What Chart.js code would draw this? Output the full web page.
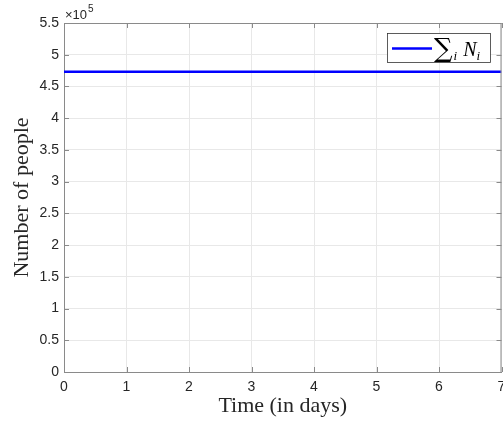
<!DOCTYPE html>
<html><head><meta charset="utf-8">
<script src="https://cdn.jsdelivr.net/npm/chart.js@4/dist/chart.umd.min.js"></script>
<style>html,body{margin:0;padding:0;background:#fff}#wrap{width:503px;height:421px}</style>
</head><body><div id="wrap"><canvas id="c" width="503" height="421"></canvas></div>
<script>
const days = [0, 1, 2, 3, 4, 5, 6, 7];
const totalPeople = [473000, 473000, 473000, 473000, 473000, 473000, 473000, 473000];
const xTicks = [0, 1, 2, 3, 4, 5, 6, 7];
const yTicks = [0, 0.5, 1, 1.5, 2, 2.5, 3, 3.5, 4, 4.5, 5, 5.5];
const yScaleFactor = 1e5;
const legendLabel = ["\u2211", "i", "N", "i"];

const AX = '#8a8a8a', TXT = '#262626', GRID = '#e8e8e8';
const SERIF = '"Liberation Serif", "Times New Roman", serif';

const extras = {
  id: 'extras',
  afterDraw(chart) {
    const ctx = chart.ctx, a = chart.chartArea, xs = chart.scales.x, ys = chart.scales.y;
    ctx.save();
    // box + inward ticks
    ctx.strokeStyle = AX; ctx.lineWidth = 1;
    ctx.beginPath();
    ctx.moveTo(a.left, a.top + 0.5); ctx.lineTo(a.right, a.top + 0.5);
    ctx.moveTo(a.right - 0.5, a.top); ctx.lineTo(a.right - 0.5, a.bottom);
    xTicks.forEach(v => { const p = Math.round(xs.getPixelForValue(v)) + 0.5;
      ctx.moveTo(p, a.bottom); ctx.lineTo(p, a.bottom - 5);
      ctx.moveTo(p, a.top); ctx.lineTo(p, a.top + 5); });
    yTicks.forEach(v => { const p = Math.round(ys.getPixelForValue(v * yScaleFactor)) + 0.5;
      ctx.moveTo(a.left, p); ctx.lineTo(a.left + 5, p);
      ctx.moveTo(a.right, p); ctx.lineTo(a.right - 5, p); });
    ctx.stroke();
    // exponent
    ctx.fillStyle = TXT; ctx.textBaseline = 'alphabetic'; ctx.textAlign = 'left';
    ctx.font = '13px "Liberation Sans", Arial, sans-serif';
    ctx.fillText('\u00d710', a.left + 1, a.top - 4);
    const w = ctx.measureText('\u00d710').width;
    ctx.font = '10px "Liberation Sans", Arial, sans-serif';
    ctx.fillText('5', a.left + 1 + w + 1, a.top - 11);
    // legend
    const lx = a.right - 114.5, ly = a.top + 10, lw = 103, lh = 29;
    ctx.fillStyle = '#fff'; ctx.fillRect(lx, ly, lw, lh);
    ctx.strokeStyle = '#333'; ctx.lineWidth = 0.8;
    ctx.strokeRect(lx + 0.5, ly + 0.5, lw, lh);
    ctx.strokeStyle = '#0000ff'; ctx.lineWidth = 2.5;
    ctx.beginPath(); ctx.moveTo(lx + 5, ly + 15.5); ctx.lineTo(lx + 45, ly + 15.5); ctx.stroke();
    ctx.fillStyle = '#000';
    let tx = lx + 47; const by = ly + 23;
    ctx.font = '26px "DejaVu Serif", serif';
    ctx.fillText(legendLabel[0], tx, by + 1); tx += ctx.measureText(legendLabel[0]).width + 1;
    ctx.font = 'italic 13px ' + SERIF;
    ctx.fillText(legendLabel[1], tx, by + 4); tx += ctx.measureText(legendLabel[1]).width + 6;
    ctx.font = 'italic 20px ' + SERIF;
    ctx.fillText(legendLabel[2], tx, by); tx += ctx.measureText(legendLabel[2]).width;
    ctx.font = 'italic 13px ' + SERIF;
    ctx.fillText(legendLabel[3], tx, by + 4);
    ctx.restore();
  }
};

new Chart(document.getElementById('c'), {
  type: 'line',
  data: { datasets: [{
    data: days.map((d, i) => ({ x: d, y: totalPeople[i] })),
    borderColor: '#0000ff', borderWidth: 2.5, pointRadius: 0, tension: 0
  }]},
  options: {
    responsive: false, animation: false,
    layout: { padding: { left: 0, top: 23, right: 1.5, bottom: 0 } },
    plugins: { legend: { display: false }, tooltip: { enabled: false } },
    scales: {
      x: {
        type: 'linear', min: 0, max: 7,
        afterBuildTicks: s => { s.ticks = xTicks.map(v => ({ value: v })); },
        afterFit: s => { s.height = 49; s.paddingLeft = 0; s.paddingRight = 0; },
        ticks: { color: TXT, font: { family: '"Liberation Sans", Arial, sans-serif', size: 14 }, padding: 7, maxRotation: 0 },
        grid: { color: GRID, drawTicks: false },
        border: { color: AX },
        title: { display: true, text: 'Time (in days)', color: TXT,
          font: { family: SERIF, size: 22 }, padding: { top: 0, bottom: 2 } }
      },
      y: {
        type: 'linear', min: 0, max: 550000,
        afterBuildTicks: s => { s.ticks = yTicks.map(v => ({ value: v * yScaleFactor })); },
        afterFit: s => { s.width = 64; s.paddingTop = 0; s.paddingBottom = 0; },
        ticks: { color: TXT, font: { family: '"Liberation Sans", Arial, sans-serif', size: 14 }, padding: 5,
          callback: v => String(v / yScaleFactor) },
        grid: { color: GRID, drawTicks: false },
        border: { color: AX },
        title: { display: true, text: 'Number of people', color: TXT,
          font: { family: SERIF, size: 22 }, padding: { top: 9.5, bottom: 0 } }
      }
    }
  },
  plugins: [extras]
});
</script></body></html>
